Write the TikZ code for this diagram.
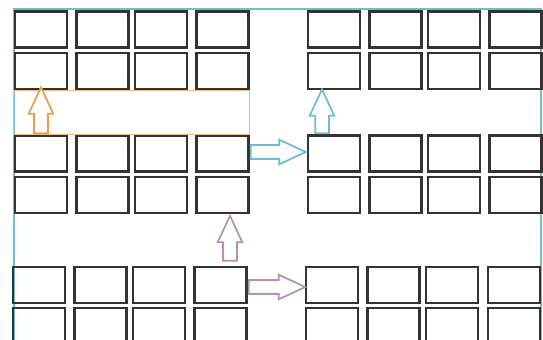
\documentclass[tikz,border=0pt]{standalone}
\usetikzlibrary{shapes.arrows,calc}

\definecolor{frameteal}{RGB}{110,190,205}
\definecolor{moveorange}{RGB}{232,160,80}
\definecolor{movemauve}{RGB}{180,145,180}

\tikzset{
    seat/.style={draw=black!80, line width=1.5pt, minimum width=1.04cm,
        minimum height=0.72cm, inner sep=0pt},
    blockarrow/.style={single arrow, draw=#1, line width=1pt, fill=white,
        inner xsep=0pt, inner ysep=0.12cm, single arrow head extend=0.11cm,
        single arrow tip angle=50, anchor=tail},
}

\begin{document}
\begin{tikzpicture}[x=0.02cm, y=-0.02cm]
    \useasboundingbox (0,0) rectangle (543,340);

    % cornice
    \draw[frameteal, line width=1.2pt] (14,345) |- (541,9) -- (541,345);

    % blocchi in alto
    \foreach \r/\y in {1/29.5, 2/71, 3/153.5, 4/195} {
        \foreach \c/\x in {1/41, 2/102.5, 3/161, 4/222.5}
            \node[seat] (L-\r-\c) at (\x,\y) {};
        \foreach \c/\x in {1/334, 2/395.5, 3/454, 4/515.5}
            \node[seat] (R-\r-\c) at (\x,\y) {};
    }

    % blocchi in basso
    \foreach \r/\y in {5/285, 6/326} {
        \foreach \c/\x in {1/39, 2/100.5, 3/159, 4/220.5}
            \node[seat] (L-\r-\c) at (\x,\y) {};
        \foreach \c/\x in {1/332, 2/393.5, 3/452, 4/514}
            \node[seat] (R-\r-\c) at (\x,\y) {};
    }

    % fascia arancione
    \draw[moveorange!70, line width=0.6pt] (L-3-1.north west) rectangle (L-2-4.south east);

    % frecce
    \node[blockarrow=moveorange, rotate=90, minimum height=0.92cm] (up-o)
        at (L-3-1.north) {};
    \node[blockarrow=frameteal, minimum height=1.1cm] (right-t)
        at ($(L-3-4.east)+(0,-1.5)$) {};
    \node[blockarrow=frameteal, rotate=90, minimum height=0.88cm] (up-t)
        at ($(R-3-1.north)+(-12,0)$) {};
    \node[blockarrow=movemauve, rotate=90, minimum height=0.9cm] (up-m)
        at ($(L-5-4.north)+(9.5,-4)$) {};
    \node[blockarrow=movemauve, minimum height=1.13cm] (right-m)
        at ($(L-5-4.east)+(0,2)$) {};
\end{tikzpicture}
\end{document}
